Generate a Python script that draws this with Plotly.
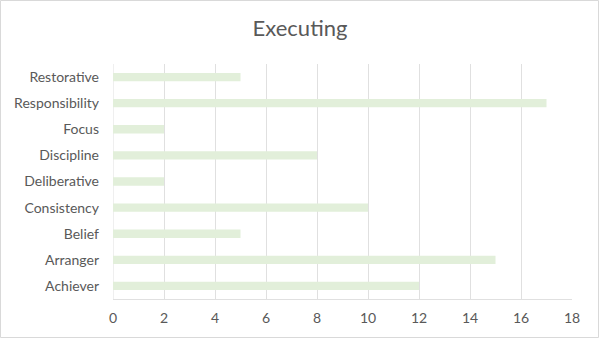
import plotly.graph_objects as go

# Executing-domain strengths and how often each appears
themes = ["Achiever", "Arranger", "Belief", "Consistency", "Deliberative",
          "Discipline", "Focus", "Responsibility", "Restorative"]
counts = [12, 15, 5, 10, 2, 8, 2, 17, 5]
x_ticks = [0, 2, 4, 6, 8, 10, 12, 14, 16, 18]

W, H = 600, 339
L, R, T, B = 113, 28, 64, 40
pw, ph = W - L - R, H - T - B

FONT = "Lato, Calibri, 'Open Sans', sans-serif"
TXT = "#595959"
GRID = "#e0e0e0"

fig = go.Figure(go.Bar(
    x=counts, y=themes, orientation="h",
    marker=dict(color="#e2efda", line=dict(width=0)),
    width=0.32,
    hoverinfo="x+y",
))

fig.update_layout(
    width=W, height=H,
    margin=dict(l=L, r=R, t=T, b=B, pad=0, autoexpand=False),
    paper_bgcolor="white", plot_bgcolor="white",
    showlegend=False,
    title=dict(text="Executing", x=0.5, xanchor="center",
               y=1 - 28 / H, yanchor="middle",
               font=dict(family=FONT, size=22, color=TXT)),
    xaxis=dict(range=[0, 18], tickvals=x_ticks, showgrid=True,
               gridcolor=GRID, gridwidth=1, zeroline=False,
               showline=True, linecolor=GRID, linewidth=1, mirror=False,
               ticks="", ticklen=0, ticklabelstandoff=6, automargin=False,
               tickfont=dict(family=FONT, size=14, color=TXT)),
    yaxis=dict(categoryorder="array", categoryarray=themes,
               range=[-0.5, len(themes) - 0.5],
               showgrid=False, zeroline=False, showline=False,
               ticks="", ticklen=0, ticklabelstandoff=13, automargin=False,
               tickfont=dict(family=FONT, size=14, color=TXT)),
    font=dict(family=FONT, color=TXT),
)

# axis line at zero as a vertical rule
fig.add_shape(type="line", xref="x", yref="paper", x0=0, x1=0, y0=0, y1=1,
              line=dict(color=GRID, width=1), layer="below")

# light frame around the whole chart
fig.add_shape(type="rect", xref="paper", yref="paper",
              x0=(0.5 - L) / pw, x1=(W - 1.5 - L) / pw,
              y0=-(B - 1.5) / ph, y1=1 + (T - 0.5) / ph,
              line=dict(color="#d9d9d9", width=1), fillcolor="rgba(0,0,0,0)")

fig.write_html("out.html")
